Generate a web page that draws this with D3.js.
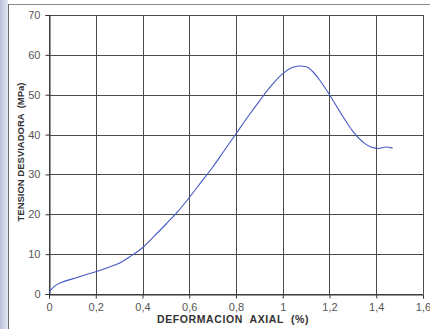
<!DOCTYPE html>
<html>
<head>
<meta charset="utf-8">
<script src="https://cdn.jsdelivr.net/npm/d3@7"></script>
<style>
  html, body { margin: 0; padding: 0; background: #fff; }
  svg { display: block; font-family: "Liberation Sans", Arial, sans-serif; }
</style>
</head>
<body>
<div id="chart"></div>
<script>
// deformacion axial (%) y tension desviadora (MPa)
const strain = [0, 0.02, 0.05, 0.1, 0.15, 0.2, 0.25, 0.3, 0.35, 0.4, 0.45, 0.5, 0.55, 0.6, 0.65, 0.7, 0.75, 0.8, 0.85, 0.9, 0.95, 1.0, 1.04, 1.07, 1.1, 1.13, 1.16, 1.2, 1.25, 1.3, 1.35, 1.38, 1.41, 1.44, 1.47];
const stress = [0.4, 1.8, 2.8, 3.8, 4.7, 5.6, 6.6, 7.7, 9.5, 11.6, 14.5, 17.5, 20.6, 24.2, 28, 31.8, 36, 40.2, 44.4, 48.4, 52.2, 55.3, 56.8, 57.2, 57, 55.7, 53.5, 50, 45.2, 40.8, 37.8, 36.8, 36.5, 36.9, 36.6];
const xTicks = [0, 0.2, 0.4, 0.6, 0.8, 1, 1.2, 1.4, 1.6];
const yTicks = [0, 10, 20, 30, 40, 50, 60, 70];

const width = 430, height = 329;
const margin = { top: 15, right: 7, bottom: 35, left: 49 };

const svg = d3.select("#chart").append("svg")
  .attr("width", width)
  .attr("height", height);

// sombra azulada del borde izquierdo (escaneo)
const grad = svg.append("defs").append("linearGradient")
  .attr("id", "edge").attr("x1", 0).attr("x2", 1);
grad.append("stop").attr("offset", "0%").attr("stop-color", "#b9c0d8");
grad.append("stop").attr("offset", "100%").attr("stop-color", "#e4e7f1");
svg.append("rect").attr("x", 0).attr("y", 0).attr("width", 8).attr("height", height)
  .attr("fill", "url(#edge)");

// marco del grafico
svg.append("line").attr("x1", 8).attr("x2", width).attr("y1", 4.5).attr("y2", 4.5)
  .attr("stroke", "#8a8a8a").attr("stroke-width", 1);
svg.append("line").attr("x1", 8.5).attr("x2", 8.5).attr("y1", 4).attr("y2", height)
  .attr("stroke", "#6a6a6a").attr("stroke-width", 1);

const x = d3.scaleLinear().domain([0, 1.6]).range([margin.left, width - margin.right]);
const y = d3.scaleLinear().domain([0, 70]).range([height - margin.bottom, margin.top]);

const gridColor = "#4a4a4a";

// cuadricula
svg.append("g")
  .selectAll("line")
  .data(xTicks)
  .join("line")
  .attr("x1", d => Math.round(x(d)) + 0.5)
  .attr("x2", d => Math.round(x(d)) + 0.5)
  .attr("y1", y(70))
  .attr("y2", y(0))
  .attr("stroke", gridColor)
  .attr("stroke-width", 1);

svg.append("g")
  .selectAll("line")
  .data(yTicks)
  .join("line")
  .attr("x1", x(0))
  .attr("x2", x(1.6))
  .attr("y1", d => Math.round(y(d)) + 0.5)
  .attr("y2", d => Math.round(y(d)) + 0.5)
  .attr("stroke", gridColor)
  .attr("stroke-width", 1);

// ejes
const xAxis = svg.append("g")
  .attr("transform", `translate(0,${Math.round(y(0)) + 0.5})`)
  .call(d3.axisBottom(x).tickValues(xTicks).tickSize(4).tickPadding(5)
    .tickFormat(d => String(d).replace(".", ",")));
xAxis.select(".domain").attr("stroke", "#333");
xAxis.selectAll(".tick line").attr("stroke", "#333");
xAxis.selectAll(".tick text").attr("fill", "#555").attr("font-size", 11)
  .attr("font-family", "Liberation Sans, Arial, sans-serif");

const yAxis = svg.append("g")
  .attr("transform", `translate(${Math.round(x(0)) + 0.5},0)`)
  .call(d3.axisLeft(y).tickValues(yTicks).tickSize(4).tickPadding(5));
yAxis.select(".domain").attr("stroke", "#333");
yAxis.selectAll(".tick line").attr("stroke", "#333");
yAxis.selectAll(".tick text").attr("fill", "#555").attr("font-size", 11)
  .attr("font-family", "Liberation Sans, Arial, sans-serif");

// curva
const points = strain.map((s, i) => [s, stress[i]]);
svg.append("path")
  .datum(points)
  .attr("fill", "none")
  .attr("stroke", "#4658c4")
  .attr("stroke-width", 1.1)
  .attr("d", d3.line()
    .x(d => x(d[0]))
    .y(d => y(d[1]))
    .curve(d3.curveMonotoneX));

// titulos de ejes
svg.append("text")
  .attr("x", 233)
  .attr("y", 323)
  .attr("text-anchor", "middle")
  .attr("font-size", 10.5)
  .attr("font-weight", "bold")
  .attr("letter-spacing", 0.6)
  .attr("fill", "#333")
  .attr("xml:space", "preserve")
  .text("DEFORMACION  AXIAL  (%)");

svg.append("text")
  .attr("transform", "translate(24,152) rotate(-90)")
  .attr("text-anchor", "middle")
  .attr("font-size", 9.5)
  .attr("font-weight", "bold")
  .attr("fill", "#333")
  .attr("xml:space", "preserve")
  .text("TENSION DESVIADORA  (MPa)");
</script>
</body>
</html>
